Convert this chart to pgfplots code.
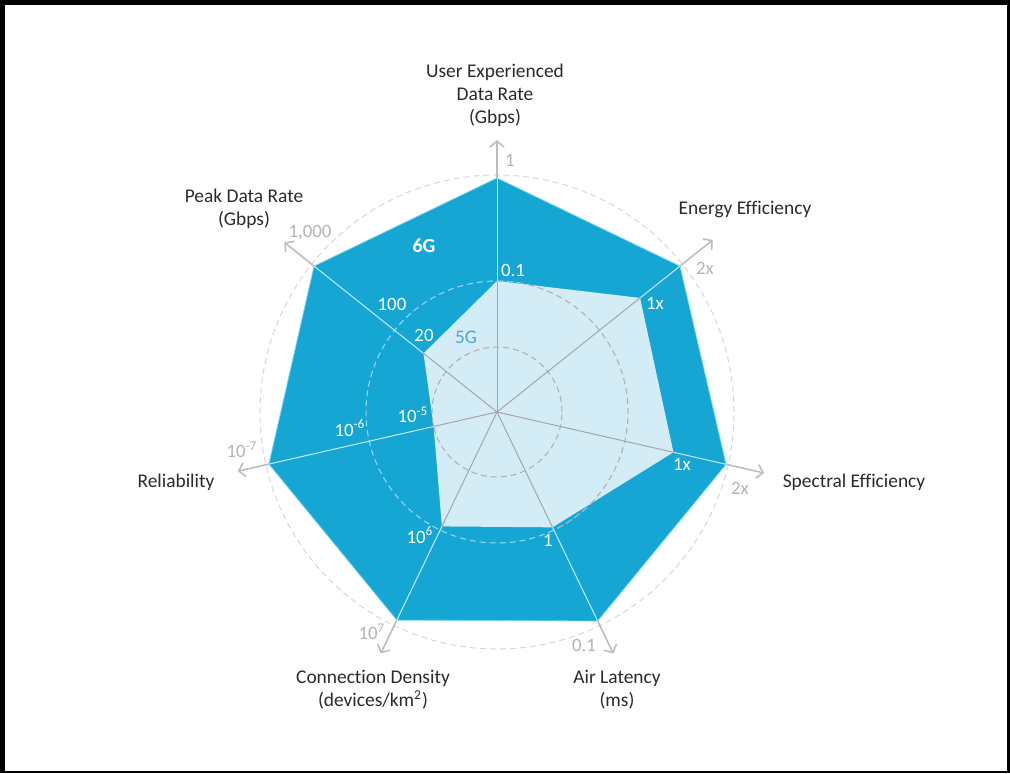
\documentclass[border=0pt]{standalone}
\usepackage{pgfplots}
\pgfplotsset{compat=1.18}
\usepackage{fontspec}
\setmainfont[Ligatures={NoCommon,NoRare,NoDiscretionary,NoContextual}]{Carlito}
\usetikzlibrary{arrows.meta}
\definecolor{sixg}{HTML}{16A6D4}
\definecolor{sixgedge}{HTML}{7AD6F2}
\definecolor{fiveg}{HTML}{D4ECF5}
\definecolor{spokeg}{HTML}{A6A6A6}
\definecolor{arrowg}{HTML}{BDBDBD}
\definecolor{ticklg}{HTML}{B3B3B3}
\definecolor{labtxt}{HTML}{2A2A2A}
\definecolor{fivetxt}{HTML}{4FA6D2}
\definecolor{lightspoke}{HTML}{C4EAF8}
\definecolor{circg}{HTML}{D6D6D6}
\definecolor{circin}{HTML}{ADADAD}
\definecolor{circlight}{HTML}{9ADBF2}
\begin{document}
\begin{tikzpicture}
\begin{axis}[x=0.5pt, y=0.5pt, xmin=-497, xmax=513, ymin=-361, ymax=412,
  hide axis, clip=false,
  every node/.style={font=\fontsize{9.4}{11.5}\selectfont}]
% frame
\fill[black] (axis cs:-497,407) rectangle (axis cs:513,412);
\fill[black] (axis cs:-497,-361) rectangle (axis cs:-492,412);
\fill[black] (axis cs:510,-361) rectangle (axis cs:513,412);
\fill[black] (axis cs:-497,-361) rectangle (axis cs:513,-359);
% outer dashed circle
\draw[circg, line width=0.5pt, dash pattern=on 3pt off 2pt] (axis cs:0,0) circle[radius=237];
% grey spokes with arrows
\addplot[data cs=polar, arrowg, line width=0.8pt, -{Straight Barb[length=3pt,width=7pt]}] coordinates {(90,0) (90,272)};
\addplot[data cs=polar, arrowg, line width=0.8pt, -{Straight Barb[length=3pt,width=7pt]}] coordinates {(38.57,0) (38.57,276)};
\addplot[data cs=polar, arrowg, line width=0.8pt, -{Straight Barb[length=3pt,width=7pt]}] coordinates {(347.14,0) (347.14,274)};
\addplot[data cs=polar, arrowg, line width=0.8pt, -{Straight Barb[length=3pt,width=7pt]}] coordinates {(295.71,0) (295.71,268)};
\addplot[data cs=polar, arrowg, line width=0.8pt, -{Straight Barb[length=3pt,width=7pt]}] coordinates {(244.29,0) (244.29,268)};
\addplot[data cs=polar, arrowg, line width=0.8pt, -{Straight Barb[length=3pt,width=7pt]}] coordinates {(192.86,0) (192.86,266)};
\addplot[data cs=polar, arrowg, line width=0.8pt, -{Straight Barb[length=3pt,width=7pt]}] coordinates {(141.43,0) (141.43,272)};
% 6G polygon
\addplot[data cs=polar, fill=sixg, draw=sixgedge, line width=0.4pt] coordinates {
(90,234) (38.57,234) (347.14,235) (295.71,232) (244.29,231) (192.86,234) (141.43,234)} -- cycle;
% light dashed middle circle over 6G
\draw[circlight, line width=0.5pt, dash pattern=on 3pt off 2pt] (axis cs:0,0) circle[radius=131];
% light spokes inside 6G
\addplot[data cs=polar, lightspoke, line width=0.5pt] coordinates {(90,0) (90,234)};
\addplot[data cs=polar, lightspoke, line width=0.5pt] coordinates {(38.57,0) (38.57,234)};
\addplot[data cs=polar, lightspoke, line width=0.5pt] coordinates {(347.14,0) (347.14,235)};
\addplot[data cs=polar, lightspoke, line width=0.5pt] coordinates {(295.71,0) (295.71,232)};
\addplot[data cs=polar, lightspoke, line width=0.5pt] coordinates {(244.29,0) (244.29,231)};
\addplot[data cs=polar, lightspoke, line width=0.5pt] coordinates {(192.86,0) (192.86,234)};
\addplot[data cs=polar, lightspoke, line width=0.5pt] coordinates {(141.43,0) (141.43,234)};
% 5G polygon
\addplot[data cs=polar, fill=fiveg, draw=none] coordinates {
(90,131) (38.57,183) (347.14,181) (295.71,128) (244.29,127) (192.86,65) (141.43,94)} -- cycle;
% grey dashed circles inside 5G
\draw[circin, line width=0.5pt, dash pattern=on 3pt off 2pt] (axis cs:0,0) circle[radius=65];
\draw[circin, line width=0.5pt, dash pattern=on 3pt off 2pt] (axis cs:{131*cos(-62)},{131*sin(-62)}) arc[start angle=-62, end angle=90, radius=131];
% grey spokes inside 5G
\addplot[data cs=polar, spokeg, line width=0.5pt] coordinates {(90,0) (90,131)};
\addplot[data cs=polar, spokeg, line width=0.5pt] coordinates {(38.57,0) (38.57,183)};
\addplot[data cs=polar, spokeg, line width=0.5pt] coordinates {(347.14,0) (347.14,181)};
\addplot[data cs=polar, spokeg, line width=0.5pt] coordinates {(295.71,0) (295.71,128)};
\addplot[data cs=polar, spokeg, line width=0.5pt] coordinates {(244.29,0) (244.29,127)};
\addplot[data cs=polar, spokeg, line width=0.5pt] coordinates {(192.86,0) (192.86,65)};
\addplot[data cs=polar, spokeg, line width=0.5pt] coordinates {(141.43,0) (141.43,94)};
% axis titles
\begin{scope}[every node/.style={font=\fontsize{9.7}{11.5}\selectfont, text=labtxt, align=center}]
\node at (axis cs:-2,317) {User Experienced\\Data Rate\\(Gbps)};
\node at (axis cs:248,203) {Energy Efficiency};
\node at (axis cs:357,-70) {Spectral Efficiency};
\node at (axis cs:120,-278) {Air Latency\\(ms)};
\node at (axis cs:-124,-278) {Connection Density\\(devices/km\textsuperscript{2})};
\node at (axis cs:-321,-70) {Reliability};
\node at (axis cs:-253,203) {Peak Data Rate\\(Gbps)};
\end{scope}
% grey outer ticks
\begin{scope}[every node/.style={font=\fontsize{9.4}{11.5}\selectfont, text=ticklg}]
\node at (axis cs:13,252) {1};
\node at (axis cs:208,144) {2x};
\node at (axis cs:243,-76) {2x};
\node at (axis cs:87,-233) {0.1};
\node at (axis cs:-125,-220) {10\textsuperscript{7}};
\node at (axis cs:-255,-38) {10\textsuperscript{-7}};
\node at (axis cs:-187,179) {1,000};
\end{scope}
% white inner ticks
\begin{scope}[every node/.style={font=\fontsize{9.4}{11.5}\selectfont, text=white}]
\node at (axis cs:16,142) {0.1};
\node at (axis cs:158,109) {1x};
\node at (axis cs:185,-52) {1x};
\node at (axis cs:51,-128) {1};
\node at (axis cs:-77,-123) {10\textsuperscript{6}};
\node at (axis cs:-147,-16) {10\textsuperscript{-6}};
\node at (axis cs:-84,-3) {10\textsuperscript{-5}};
\node at (axis cs:-105,108) {100};
\node at (axis cs:-73,77) {20};
\node[font=\fontsize{10}{12}\selectfont\bfseries] at (axis cs:-73,166) {6G};
\end{scope}
\node[font=\fontsize{9.6}{11.5}\selectfont, text=fivetxt] at (axis cs:-31,75) {5G};
\end{axis}
\end{tikzpicture}
\end{document}
